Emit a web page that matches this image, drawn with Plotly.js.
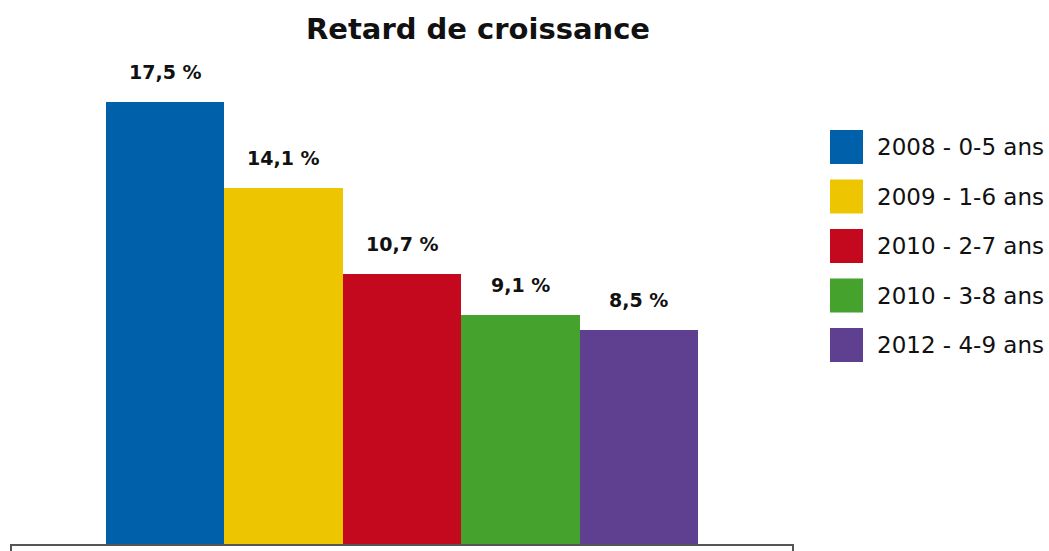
<!DOCTYPE html>
<html>
<head>
<meta charset="utf-8">
<script src="https://cdn.plot.ly/plotly-3.0.1.min.js"></script>
<style>html,body{margin:0;padding:0;background:#fff;}#chart{width:1049px;height:551px;}</style>
</head>
<body>
<div id="chart"></div>
<script>
var seriesNames = ["2008 - 0-5 ans", "2009 - 1-6 ans", "2010 - 2-7 ans", "2010 - 3-8 ans", "2012 - 4-9 ans"];
var seriesValues = [17.5, 14.1, 10.7, 9.1, 8.5];
var seriesColors = ["#0061AA", "#EDC500", "#C4091E", "#45A22D", "#5F3F8F"];
var chartTitle = "Retard de croissance";

var FONT = "DejaVu Sans, sans-serif";
var W = 1049, H = 551;
var L = 11, R = 256, T = 64, B = 6;
var pw = W - L - R, ph = H - T - B;
function px2x(px) { return (px - L) / pw; }
function py2y(py) { return (H - B - py) / ph; }

var traces = seriesNames.map(function (name, i) {
  return {
    type: "bar",
    name: name,
    x: [i],
    y: [seriesValues[i]],
    width: 1,
    marker: { color: seriesColors[i], line: { width: 0 } },
    hoverinfo: "skip",
    showlegend: false
  };
});

var annotations = seriesValues.map(function (v, i) {
  return {
    x: i, y: v, xref: "x", yref: "y",
    text: v.toFixed(1).replace(".", ",") + " %",
    showarrow: false,
    yshift: 30,
    yanchor: "middle",
    font: { family: FONT, size: 19, color: "#111", weight: 700 }
  };
});

var shapes = [{
  type: "rect", xref: "paper", yref: "paper",
  x0: 0, x1: 1, y0: -0.05, y1: 0,
  line: { color: "#555", width: 2 }, fillcolor: "rgba(0,0,0,0)", layer: "above"
}];

seriesNames.forEach(function (name, i) {
  var top = 130 + i * 49.5;
  shapes.push({
    type: "rect", xref: "paper", yref: "paper",
    x0: px2x(830), x1: px2x(863), y0: py2y(top + 34), y1: py2y(top),
    line: { width: 0 }, fillcolor: seriesColors[i]
  });
  annotations.push({
    xref: "paper", yref: "paper",
    x: px2x(875), y: py2y(top + 17),
    xanchor: "left", yanchor: "middle",
    text: name, showarrow: false,
    font: { family: FONT, size: 23, color: "#111" }
  });
});

var layout = {
  width: W, height: H,
  margin: { l: L, r: R, t: T, b: B, pad: 0 },
  paper_bgcolor: "#fff", plot_bgcolor: "#fff",
  title: {
    text: chartTitle,
    x: px2x(478), xref: "paper", xanchor: "center",
    y: 1 - 29 / H, yref: "container", yanchor: "middle",
    font: { family: FONT, size: 29, color: "#111", weight: 700 }
  },
  barmode: "overlay",
  bargap: 0,
  xaxis: { range: [-1.3, 5.3], showgrid: false, zeroline: false, showline: false, showticklabels: false, ticks: "", fixedrange: true },
  yaxis: { range: [0, 19], visible: false, showgrid: false, zeroline: false, fixedrange: true },
  annotations: annotations,
  shapes: shapes,
  showlegend: false
};

Plotly.newPlot("chart", traces, layout, { displayModeBar: false, staticPlot: true });
</script>
</body>
</html>
